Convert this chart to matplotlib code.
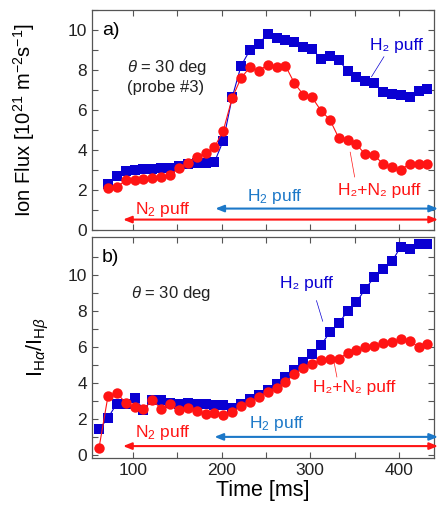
import matplotlib
matplotlib.use("Agg")
import matplotlib.pyplot as plt
from matplotlib.ticker import MultipleLocator, FixedLocator

plt.rcParams['font.family'] = ['Liberation Sans', 'DejaVu Sans']
plt.rcParams['mathtext.fontset'] = 'custom'
plt.rcParams['mathtext.rm'] = 'Liberation Sans'
plt.rcParams['mathtext.it'] = 'Liberation Sans:italic'

# panel a) ion flux, time in ms
time_a = [72, 82, 92, 102, 112, 122, 132, 142, 152, 162, 172, 182, 192,
          202, 212, 222, 232, 242, 252, 262, 272, 282, 292, 302, 312, 322,
          332, 342, 352, 362, 372, 382, 392, 402, 412, 422, 432]
flux_h2 = [2.31, 2.69, 2.95, 3.0, 3.05, 3.08, 3.1, 3.12, 3.2, 3.3, 3.35, 3.38, 3.4,
           4.48, 6.64, 8.22, 9.0, 9.33, 9.8, 9.6, 9.5, 9.43, 9.17, 9.08, 8.55, 8.72,
           8.5, 7.97, 7.67, 7.47, 7.35, 6.92, 6.8, 6.75, 6.65, 6.95, 7.06]
flux_h2n2 = [2.13, 2.16, 2.49, 2.49, 2.54, 2.63, 2.66, 2.74, 3.12, 3.37, 3.65, 3.85, 4.15,
             4.98, 6.61, 7.61, 8.14, 7.97, 8.27, 8.14, 8.22, 7.36, 6.78, 6.64, 5.98, 5.53,
             4.62, 4.52, 4.29, 3.79, 3.74, 3.32, 3.15, 3.02, 3.32, 3.32, 3.32]

# panel b) line ratio
time_b = [62, 72, 82, 92, 102, 112, 122, 132, 142, 152, 162, 172, 182, 192,
          202, 212, 222, 232, 242, 252, 262, 272, 282, 292, 302, 312, 322,
          332, 342, 352, 362, 372, 382, 392, 402, 412, 422, 432]
ratio_h2 = [1.42, 2.06, 2.86, 2.86, 3.19, 2.52, 3.07, 3.04, 2.89, 2.86, 2.89, 2.82, 2.86,
            2.75, 2.75, 2.6, 2.85, 3.1, 3.35, 3.63, 3.92, 4.33, 4.7, 5.16, 5.58, 6.08,
            6.81, 7.31, 7.97, 8.47, 9.21, 9.85, 10.31, 10.73, 11.55, 11.42, 11.7, 11.7]
ratio_h2n2 = [0.42, 3.26, 3.44, 2.89, 2.67, 2.54, 3.04, 2.58, 2.82, 2.52, 2.63, 2.45, 2.3,
              2.34, 2.21, 2.39, 2.71, 2.95, 3.22, 3.5, 3.74, 4.05, 4.48, 4.84, 5.06, 5.25,
              5.34, 5.34, 5.65, 5.84, 5.98, 6.02, 6.2, 6.26, 6.45, 6.35, 5.98, 6.17]

y_major = [0, 2, 4, 6, 8, 10]
y_minor = [1, 3, 5, 7, 9, 11]

BLUE = "#0a00d2"
RED = "#ff1414"
ARROW_BLUE = "#1c78c8"

fig = plt.figure(figsize=(4.38, 5.07), dpi=100)
ax1 = fig.add_axes([0.210, 0.546, 0.781, 0.434])
ax2 = fig.add_axes([0.210, 0.097, 0.781, 0.436])

for ax in (ax1, ax2):
    ax.set_xlim(54, 439.5)
    ax.xaxis.set_major_locator(MultipleLocator(100))
    ax.xaxis.set_minor_locator(MultipleLocator(50))
    ax.yaxis.set_major_locator(FixedLocator(y_major))
    ax.yaxis.set_minor_locator(FixedLocator(y_minor))
    ax.tick_params(which='both', direction='in', top=True, right=True,
                   length=4, width=0.8, color='#555555', labelsize=12.5,
                   labelcolor='#222222')
    for s in ax.spines.values():
        s.set_color('#555555')
        s.set_linewidth(0.9)

ax1.plot(time_a, flux_h2, color=BLUE, marker='s', markersize=7, mew=0, lw=0.8)
ax1.plot(time_a, flux_h2n2, color=RED, marker='o', markersize=7.5, mew=0, lw=0.8)
ax1.set_ylim(0, 11)
ax1.tick_params(labelbottom=False)
ax1.set_ylabel("Ion Flux [10$^{21}$ m$^{-2}$s$^{-1}$]", fontsize=14.5)
ax1.yaxis.set_label_coords(-0.16, 0.5)

ax1.text(75, 9.96, "a)", fontsize=14, ha='center', va='center')
ax1.text(138, 8.12, r"$\theta$ = 30 deg", fontsize=12, ha='center', va='center', color='#222222')
ax1.text(137, 7.12, "(probe #3)", fontsize=12, ha='center', va='center', color='#222222')
ax1.text(397, 9.22, "H₂ puff", fontsize=12.5, ha='center', va='center', color=BLUE)
ax1.plot([383, 369], [8.67, 7.67], color=BLUE, lw=0.5)
ax1.text(378, 1.99, "H₂+N₂ puff", fontsize=12.5, ha='center', va='center', color=RED)
ax1.plot([350, 345], [2.66, 3.9], color=RED, lw=0.5)

ax1.annotate("", xy=(444, 1.08), xytext=(193, 1.08), annotation_clip=False,
             arrowprops=dict(arrowstyle="<|-|>,head_length=0.5,head_width=0.2",
                             color=ARROW_BLUE, lw=1.5, shrinkA=0, shrinkB=0))
ax1.text(260, 1.69, "H$_2$ puff", fontsize=12.5, ha='center', va='center', color=ARROW_BLUE)
ax1.annotate("", xy=(444, 0.53), xytext=(89, 0.53), annotation_clip=False,
             arrowprops=dict(arrowstyle="<|-|>,head_length=0.5,head_width=0.2",
                             color=RED, lw=1.5, shrinkA=0, shrinkB=0))
ax1.text(134, 1.05, "N$_2$ puff", fontsize=12.5, ha='center', va='center', color=RED)

ax2.plot(time_b, ratio_h2, color=BLUE, marker='s', markersize=7, mew=0, lw=0.8)
ax2.plot(time_b, ratio_h2n2, color=RED, marker='o', markersize=7.5, mew=0, lw=0.8)
ax2.set_ylim(-0.15, 12.1)
ax2.set_xlabel("Time [ms]", fontsize=15.5, labelpad=2)
ax2.set_ylabel(r"I$_{\mathrm{H}\alpha}$/I$_{\mathrm{H}\beta}$", fontsize=15.5)
ax2.yaxis.set_label_coords(-0.12, 0.5)

ax2.text(75, 10.94, "b)", fontsize=14, ha='center', va='center')
ax2.text(143, 8.95, r"$\theta$ = 30 deg", fontsize=12, ha='center', va='center', color='#222222')
ax2.text(296, 9.5, "H₂ puff", fontsize=12.5, ha='center', va='center', color=BLUE)
ax2.plot([307, 314], [8.56, 7.42], color=BLUE, lw=0.5)
ax2.text(350, 3.76, "H₂+N₂ puff", fontsize=12.5, ha='center', va='center', color=RED)
ax2.plot([326, 330], [5.36, 4.33], color=RED, lw=0.5)

ax2.annotate("", xy=(444, 1.01), xytext=(192, 1.01), annotation_clip=False,
             arrowprops=dict(arrowstyle="<|-|>,head_length=0.5,head_width=0.2",
                             color=ARROW_BLUE, lw=1.5, shrinkA=0, shrinkB=0))
ax2.text(262, 1.77, "H$_2$ puff", fontsize=12.5, ha='center', va='center', color=ARROW_BLUE)
ax2.annotate("", xy=(444, 0.5), xytext=(89, 0.5), annotation_clip=False,
             arrowprops=dict(arrowstyle="<|-|>,head_length=0.5,head_width=0.2",
                             color=RED, lw=1.5, shrinkA=0, shrinkB=0))
ax2.text(134, 1.23, "N$_2$ puff", fontsize=12.5, ha='center', va='center', color=RED)

plt.savefig("out.png", dpi=100)
